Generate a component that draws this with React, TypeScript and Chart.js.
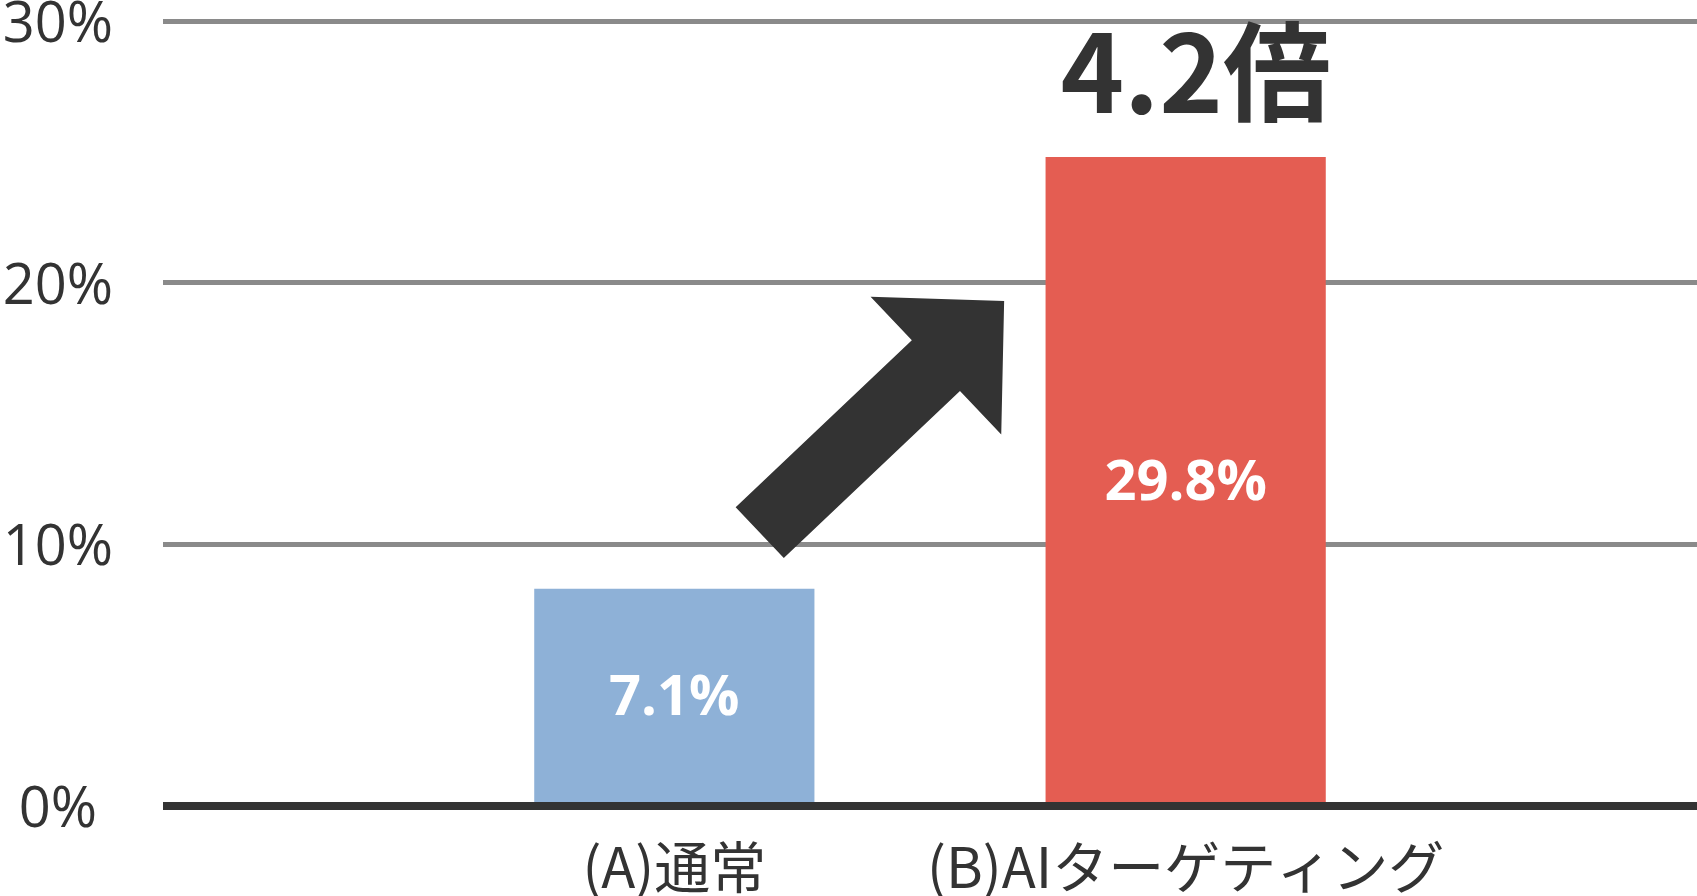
import React, { useEffect, useRef } from "react";
import { Chart, registerables } from "chart.js";

Chart.register(...registerables);

// categories (empty ends keep the bars where the picture has them)
const categories = ["", "(A)通常", "(B)AIターゲティング", ""];
// bar heights as drawn on the axis
const barHeights = [null, 8.3, 24.8, null];
// numbers printed inside the bars
const valueLabels = ["", "7.1%", "29.8%", ""];
const barColors = ["#8EB1D7", "#8EB1D7", "#E45D52", "#E45D52"];
const yTicks = [0, 10, 20, 30];
const ratioLabel = "4.2倍";
// arrow from near (A) up towards (B), in data units
const arrowFrom = { x: 1.167, y: 10.45 };
const arrowTo = { x: 1.645, y: 19.3 };

const DARK = "#333333";

const overlayPlugin = {
  id: "overlay",
  afterDatasetsDraw(chart: any) {
    const { ctx, chartArea, scales } = chart;
    const xs = scales.x;
    const ys = scales.y;
    const meta = chart.getDatasetMeta(0);
    ctx.save();

    // base line drawn over the bar feet
    const y0 = ys.getPixelForValue(0);
    ctx.strokeStyle = DARK;
    ctx.lineWidth = 8;
    ctx.beginPath();
    ctx.moveTo(chartArea.left, y0);
    ctx.lineTo(chartArea.right, y0);
    ctx.stroke();

    // values inside bars
    ctx.fillStyle = "#ffffff";
    ctx.font = "bold 56px 'Open Sans'";
    ctx.textAlign = "center";
    ctx.textBaseline = "alphabetic";
    meta.data.forEach((bar: any, i: number) => {
      if (!valueLabels[i] || barHeights[i] == null) return;
      const { x, y, base } = bar.getProps(["x", "y", "base"], true);
      ctx.fillText(valueLabels[i], x, (y + base) / 2 + 20);
    });

    // ratio above the tallest bar
    let peak = 0;
    barHeights.forEach((v, i) => {
      if (v != null && v > (barHeights[peak] ?? -1)) peak = i;
    });
    const top = meta.data[peak];
    ctx.fillStyle = DARK;
    ctx.font = "bold 108px 'Noto Sans CJK JP'";
    ctx.fillText(ratioLabel, top.x + 10, top.y - 44);

    // arrow
    const p0 = { x: xs.getPixelForValue(arrowFrom.x), y: ys.getPixelForValue(arrowFrom.y) };
    const p1 = { x: xs.getPixelForValue(arrowTo.x), y: ys.getPixelForValue(arrowTo.y) };
    const dx = p1.x - p0.x;
    const dy = p1.y - p0.y;
    const len = Math.hypot(dx, dy);
    const ux = dx / len;
    const uy = dy / len;
    const nx = -uy;
    const ny = ux;
    const headLen = 94;
    const headHalf = 95;
    const shaftHalf = 35;
    const bx = p1.x - ux * headLen;
    const by = p1.y - uy * headLen;
    ctx.fillStyle = DARK;
    ctx.beginPath();
    ctx.moveTo(p0.x + nx * shaftHalf, p0.y + ny * shaftHalf);
    ctx.lineTo(bx + nx * shaftHalf, by + ny * shaftHalf);
    ctx.lineTo(bx + nx * headHalf, by + ny * headHalf);
    ctx.lineTo(p1.x, p1.y);
    ctx.lineTo(bx - nx * headHalf, by - ny * headHalf);
    ctx.lineTo(bx - nx * shaftHalf, by - ny * shaftHalf);
    ctx.lineTo(p0.x - nx * shaftHalf, p0.y - ny * shaftHalf);
    ctx.closePath();
    ctx.fill();

    ctx.restore();
  },
};

const App: React.FC = () => {
  const canvasRef = useRef<HTMLCanvasElement>(null);

  useEffect(() => {
    const ctx = canvasRef.current?.getContext("2d");
    if (!ctx) return;

    const chart = new Chart(ctx, {
      type: "bar",
      data: {
        labels: categories,
        datasets: [
          {
            data: barHeights,
            backgroundColor: barColors,
            borderWidth: 0,
            categoryPercentage: 1,
            barPercentage: 0.548,
          },
        ],
      },
      options: {
        responsive: true,
        maintainAspectRatio: false,
        animation: false,
        layout: { padding: { left: 4, top: 21, right: 0, bottom: 0 } },
        plugins: {
          legend: { display: false },
          tooltip: { enabled: false },
        },
        scales: {
          x: {
            offset: false,
            grid: { display: false, drawTicks: false },
            border: { display: false },
            afterFit: (scale: any) => {
              scale.height = 90;
              scale.paddingLeft = 0;
              scale.paddingRight = 0;
            },
            ticks: {
              autoSkip: false,
              maxRotation: 0,
              padding: 33,
              color: DARK,
              font: { family: "'Noto Sans CJK JP'", size: 56, lineHeight: 1 },
            },
          },
          y: {
            min: 0,
            max: 30,
            afterBuildTicks: (scale: any) => {
              scale.ticks = yTicks.map((v) => ({ value: v }));
            },
            afterFit: (scale: any) => {
              scale.width = 159;
              scale.paddingTop = 0;
              scale.paddingBottom = 0;
            },
            grid: {
              drawTicks: false,
              color: (c: any) => (c.tick && c.tick.value === 0 ? DARK : "#8a8a8a"),
              lineWidth: (c: any) => (c.tick && c.tick.value === 0 ? 8 : 5),
            },
            border: { display: false },
            ticks: {
              crossAlign: "center",
              padding: 50,
              labelOffset: 5,
              color: DARK,
              font: { family: "'Open Sans'", size: 56, lineHeight: 0.6 },
              callback: (v: any) => `${v}%`,
            },
          },
        },
      },
      plugins: [overlayPlugin],
    });

    return () => chart.destroy();
  }, []);

  return (
    <div
      style={{
        position: "fixed",
        left: 0,
        top: 0,
        width: "1697px",
        height: "896px",
        background: "#ffffff",
      }}
    >
      <canvas ref={canvasRef} />
    </div>
  );
};

export default App;
